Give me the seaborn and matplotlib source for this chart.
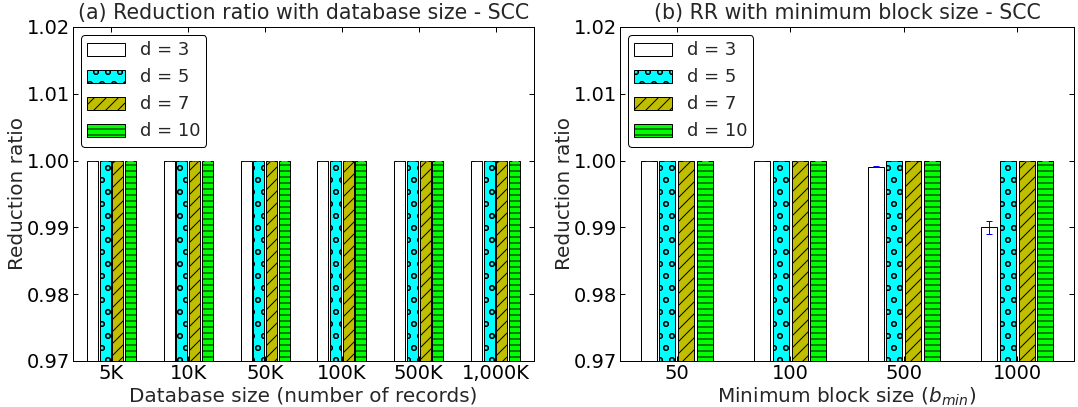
import matplotlib
matplotlib.use('Agg')
import numpy as np
import pandas as pd
import matplotlib.pyplot as plt
import seaborn as sns

# values
d_labels = ['d = 3', 'd = 5', 'd = 7', 'd = 10']

db_sizes = ['5K', '10K', '50K', '100K', '500K', '1,000K']
rr_db_d3 = [1.0, 1.0, 1.0, 1.0, 1.0, 1.0]
rr_db_d5 = [1.0, 1.0, 1.0, 1.0, 1.0, 1.0]
rr_db_d7 = [1.0, 1.0, 1.0, 1.0, 1.0, 1.0]
rr_db_d10 = [1.0, 1.0, 1.0, 1.0, 1.0, 1.0]
err_db = [0.0, 0.0, 0.0, 0.0, 0.0, 0.0]

block_sizes = ['50', '100', '500', '1000']
rr_blk_d3 = [1.0, 1.0, 0.9991, 0.9900]
rr_blk_d5 = [1.0, 1.0, 1.0, 1.0]
rr_blk_d7 = [1.0, 1.0, 1.0, 1.0]
rr_blk_d10 = [1.0, 1.0, 1.0, 1.0]
err_blk_d3 = [0.0, 0.0, 0.00005, 0.001]
err_blk = [0.0, 0.0, 0.0, 0.0]

fills = ['white', 'cyan', (0.75, 0.75, 0.0), 'lime']
hatches = ['', 'o', '//', '--']
ecolors = ['blue', 'green', 'red', (0.0, 0.75, 0.75)]

sns.set_style('ticks')
plt.rcParams['font.family'] = ['DejaVu Sans']
plt.rcParams['hatch.linewidth'] = 1.0
plt.rcParams['mathtext.fontset'] = 'dejavusans'

FS_TICK = 19.5
FS_TITLE = 20.5
FS_LABEL = 20
FS_LEG = 18


def make_df(cats, series):
    rows = []
    for lab, vals in zip(d_labels, series):
        for c, v in zip(cats, vals):
            rows.append({'cat': c, 'd': lab, 'rr': v})
    return pd.DataFrame(rows)


def draw_panel(ax, cats, series, errs, title, xlabel):
    df = make_df(cats, series)
    sns.barplot(data=df, x='cat', y='rr', hue='d', order=cats, hue_order=d_labels,
                palette=fills, saturation=1, errorbar=None, width=0.66, gap=0.14,
                edgecolor='black', linewidth=1, legend=False, ax=ax)
    bars = list(ax.containers[:4])
    for c, h, err, col in zip(bars, hatches, errs, ecolors):
        for p in c.patches:
            p.set_hatch(h)
        xs = [p.get_x() + p.get_width() / 2 for p in c.patches]
        ys = [p.get_height() for p in c.patches]
        ax.errorbar(xs, ys, yerr=err, fmt='none', ecolor=col, capsize=3,
                    elinewidth=1, capthick=1, zorder=5)
    ticks = np.arange(0.97, 1.0201, 0.01)
    ax.set_ylim(0.97, 1.02)
    ax.set_yticks(ticks)
    ax.set_yticklabels(['%.2f' % t for t in ticks])
    ax.set_xlim(-0.5, len(cats) - 0.5)
    ax.tick_params(direction='in', top=True, right=True, length=5, width=1,
                   labelsize=FS_TICK, pad=3, colors='black')
    for s in ax.spines.values():
        s.set_visible(True)
        s.set_color('black')
        s.set_linewidth(1)
    ax.set_title(title, fontsize=FS_TITLE, pad=8)
    ax.set_xlabel(xlabel, fontsize=FS_LABEL, labelpad=3)
    ax.set_ylabel('Reduction ratio', fontsize=FS_LABEL, labelpad=0)
    leg = ax.legend(bars, d_labels, loc='upper left', fontsize=FS_LEG, frameon=True,
                    fancybox=True, framealpha=1, edgecolor='black',
                    handlelength=2.1, handleheight=0.75, labelspacing=0.5,
                    borderpad=0.35, handletextpad=0.8, borderaxespad=0.45)
    leg.get_frame().set_linewidth(1)


fig = plt.figure(figsize=(1078 / 72, 407 / 72), dpi=72)
ax1 = fig.add_axes([73 / 1078, 1 - 361 / 407, 461 / 1078, 334 / 407])
ax2 = fig.add_axes([620 / 1078, 1 - 361 / 407, 454 / 1078, 334 / 407])

draw_panel(ax1, db_sizes, [rr_db_d3, rr_db_d5, rr_db_d7, rr_db_d10],
           [err_db, err_db, err_db, err_db],
           '(a) Reduction ratio with database size - SCC',
           'Database size (number of records)')
draw_panel(ax2, block_sizes, [rr_blk_d3, rr_blk_d5, rr_blk_d7, rr_blk_d10],
           [err_blk_d3, err_blk, err_blk, err_blk],
           '(b) RR with minimum block size - SCC',
           'Minimum block size ($b_{min}$)')

fig.savefig('out.png', dpi=72)
